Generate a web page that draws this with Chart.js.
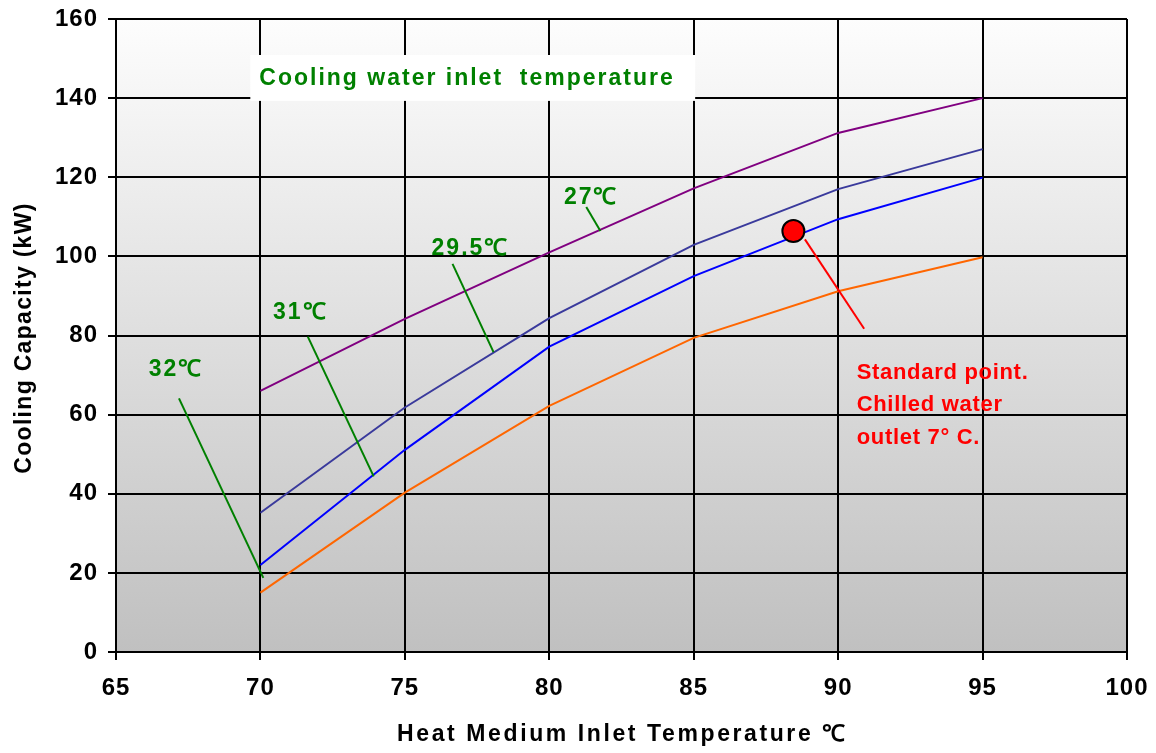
<!DOCTYPE html>
<html>
<head>
<meta charset="utf-8">
<script src="https://cdn.jsdelivr.net/npm/chart.js@4.4.1/dist/chart.umd.min.js"></script>
<style>
  html, body { margin: 0; padding: 0; background: #fff; }
  #wrap { width: 1156px; height: 753px; }
</style>
</head>
<body>
<div id="wrap"><canvas id="capChart"></canvas></div>
<script>
// data
const temps = [70, 75, 80, 85, 90, 95];
const cap27 = [66, 84.2, 101, 117.2, 131.2, 140];
const cap295 = [35.2, 61.8, 84.4, 102.9, 117, 127.1];
const cap31 = [22, 51.1, 77.2, 95, 109.4, 119.9];
const cap32 = [15, 40.3, 62.2, 79.4, 91.2, 99.8];
const stdPoint = { x: 88.45, y: 106.4 };

const xTicks = [65, 70, 75, 80, 85, 90, 95, 100];
const yTicks = [0, 20, 40, 60, 80, 100, 120, 140, 160];

// callout labels and their leader lines (data coords)
const callouts = [
  { text: "27\u2103", at: [81.45, 114.9], line: [[81.28, 112.5], [81.77, 106.4]] },
  { text: "29.5\u2103", at: [77.27, 102], line: [[76.65, 98.1], [78.07, 75.8]] },
  { text: "31\u2103", at: [71.38, 85.8], line: [[71.64, 79.7], [73.92, 44.4]] },
  { text: "32\u2103", at: [67.08, 71.4], line: [[67.18, 64.1], [70.1, 18.75]] }
];
const stdLeader = [[88.85, 104.3], [90.9, 81.7]];
const stdText = ["Standard point.", "Chilled water", "outlet 7\u00b0 C."];

const GREEN = "#008000";
const FONT = "'Liberation Sans', Arial, sans-serif";

const toPts = (xs, ys) => xs.map((x, i) => ({ x: x, y: ys[i] }));
const seg = pts => pts.map(p => ({ x: p[0], y: p[1] }));

const curve = (label, ys, color) => ({
  label: label, data: toPts(temps, ys), showLine: true,
  borderColor: color, borderWidth: 2, pointRadius: 0, tension: 0, order: 2
});

const datasets = [
  curve("27", cap27, "#800080"),
  curve("29.5", cap295, "#3a3a9c"),
  curve("31", cap31, "#0000ff"),
  curve("32", cap32, "#ff6600")
];
callouts.forEach(c => datasets.push({
  label: "lead " + c.text, data: seg(c.line), showLine: true,
  borderColor: GREEN, borderWidth: 2, pointRadius: 0, order: 1
}));
datasets.push({
  label: "std lead", data: seg(stdLeader), showLine: true,
  borderColor: "#ff0000", borderWidth: 2, pointRadius: 0, order: 1
});
datasets.push({
  label: "Standard point", data: [stdPoint], showLine: false,
  pointRadius: 11, pointBackgroundColor: "#ff0000",
  pointBorderColor: "#000", pointBorderWidth: 2, order: 0
});

/* background gradient, title box, axis titles, callouts */
const backdrop = {
  id: "backdrop",
  beforeDraw(chart) {
    const { ctx, chartArea: a } = chart;
    const g = ctx.createLinearGradient(0, a.top, 0, a.bottom);
    g.addColorStop(0, "#fdfdfd");
    g.addColorStop(1, "#c0c0c0");
    ctx.save();
    ctx.fillStyle = g;
    ctx.fillRect(a.left, a.top, a.right - a.left, a.bottom - a.top);
    ctx.restore();
    // tick labels are letter-spaced a little in the original
    ctx.letterSpacing = "1px";
  },
  beforeDatasetsDraw(chart) {
    const { ctx, scales: { x, y } } = chart;
    const l = x.getPixelForValue(69.65), r = x.getPixelForValue(85.05);
    const t = y.getPixelForValue(150.9), b = y.getPixelForValue(139.3);
    ctx.save();
    ctx.fillStyle = "#fff";
    ctx.fillRect(l, t, r - l, b - t);
    ctx.fillStyle = GREEN;
    ctx.font = "bold 23px " + FONT;
    ctx.letterSpacing = "2px";
    ctx.textBaseline = "middle";
    ctx.fillText("Cooling water inlet  temperature", l + 9, (t + b) / 2 + 1);
    ctx.restore();
  },
  afterDatasetsDraw(chart) {
    const { ctx, scales: { x, y } } = chart;
    ctx.save();
    ctx.font = "bold 23px " + FONT;
    ctx.letterSpacing = "2px";
    ctx.textAlign = "center";
    ctx.textBaseline = "middle";
    ctx.fillStyle = GREEN;
    callouts.forEach(c => ctx.fillText(c.text, x.getPixelForValue(c.at[0]), y.getPixelForValue(c.at[1])));
    ctx.font = "bold 22px " + FONT;
    ctx.fillStyle = "#ff0000";
    ctx.textAlign = "left";
    ctx.letterSpacing = "0.7px";
    const tx = x.getPixelForValue(90.64), ty = y.getPixelForValue(70.6);
    stdText.forEach((s, i) => ctx.fillText(s, tx, ty + i * 32.5));

    // axis titles
    ctx.fillStyle = "#000";
    ctx.textAlign = "center";
    ctx.font = "bold 23px " + FONT;
    ctx.letterSpacing = "2.6px";
    ctx.fillText("Heat Medium Inlet Temperature \u2103", (x.left + x.right) / 2 + 1, 735);
    ctx.translate(25, 338);
    ctx.rotate(-Math.PI / 2);
    ctx.letterSpacing = "1.3px";
    ctx.fillText("Cooling Capacity (kW)", 0, 0);
    ctx.restore();
  }
};

new Chart(document.getElementById("capChart"), {
  type: "scatter",
  data: { datasets: datasets },
  plugins: [backdrop],
  options: {
    responsive: true,
    maintainAspectRatio: false,
    animation: false,
    layout: { padding: { top: 19, right: 29, left: 0, bottom: 0 } },
    plugins: { legend: { display: false }, tooltip: { enabled: false } },
    scales: {
      x: {
        type: "linear", min: 65, max: 100,
        afterBuildTicks: s => { s.ticks = xTicks.map(v => ({ value: v })); },
        afterFit: s => { s.height = 101; s.paddingLeft = 0; s.paddingRight = 0; },
        grid: { color: "#000", lineWidth: 2, tickLength: 8 },
        border: { color: "#000", width: 2 },
        ticks: { color: "#000", padding: 14, font: { family: FONT, size: 24, weight: "bold" } }
      },
      y: {
        type: "linear", min: 0, max: 160,
        afterBuildTicks: s => { s.ticks = yTicks.map(v => ({ value: v })); },
        afterFit: s => { s.width = 116; s.paddingTop = 0; s.paddingBottom = 0; },
        grid: { color: "#000", lineWidth: 2, tickLength: 8 },
        border: { color: "#000", width: 2 },
        ticks: { color: "#000", padding: 10, font: { family: FONT, size: 24, weight: "bold" } }
      }
    }
  }
});
</script>
</body>
</html>
